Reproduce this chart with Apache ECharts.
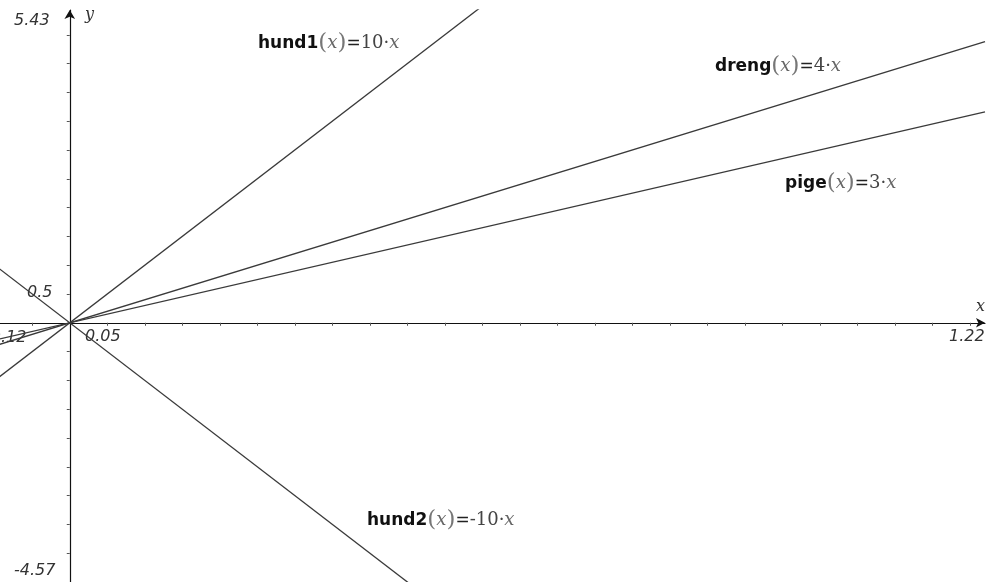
<!DOCTYPE html>
<html>
<head>
<meta charset="utf-8">
<script src="https://cdn.jsdelivr.net/npm/echarts@6/dist/echarts.min.js"></script>
<style>
  html, body { margin: 0; padding: 0; background: #fff; }
  #chart { width: 987px; height: 582px; }
</style>
</head>
<body>
<div id="chart"></div>
<script>
// window of the graph
const xMin = -0.093, xMax = 1.22;
const yMin = -4.57, yMax = 5.43;

// each function drawn as a straight segment through two points
const hund1 = [[-0.1, -1], [0.6, 6]];      // 10x
const dreng = [[-0.1, -0.4], [1.22, 4.88]]; // 4x
const pige = [[-0.1, -0.3], [1.22, 3.66]];  // 3x
const hund2 = [[-0.1, 1], [0.5, -5]];       // -10x

// tick marks (0.05 on x, 0.5 on y)
const xTicks = [];
for (let i = -1; i <= 24; i++) if (i !== 0) xTicks.push(+(i * 0.05).toFixed(2));
const yTicks = [];
for (let i = -9; i <= 10; i++) if (i !== 0) yTicks.push(+(i * 0.5).toFixed(1));

const lineColor = "#3a3a3a";
const axisColor = "#111";
const numFont = "italic 16px DejaVu Sans";

const chart = echarts.init(document.getElementById("chart"));

function fnSeries(name, data) {
  return {
    name: name,
    type: "line",
    data: data,
    symbol: "none",
    clip: true,
    lineStyle: { color: lineColor, width: 1.3 },
    z: 3
  };
}

function fnLabel(left, top, name, coef) {
  return {
    type: "text",
    left: left,
    top: top,
    style: {
      text: "{n|" + name + "}{p|(}{x|x}{p|)}{e|=}{c|" + coef + "·}{x|x}",
      rich: {
        n: { fontFamily: "DejaVu Sans", fontWeight: "bold", fontSize: 17, fill: "#111" },
        p: { fontFamily: "DejaVu Serif", fontSize: 23, fill: "#777" },
        x: { fontFamily: "DejaVu Serif", fontStyle: "italic", fontSize: 18, fill: "#666" },
        e: { fontFamily: "DejaVu Sans", fontSize: 17, fill: "#222" },
        c: { fontFamily: "DejaVu Serif", fontSize: 18, fill: "#444" }
      }
    }
  };
}

function numText(left, top, text) {
  return { type: "text", left: left, top: top, style: { text: text, fill: "#333", font: numFont } };
}

const option = {
  backgroundColor: "#fff",
  animation: false,
  grid: { left: 0, right: 2, top: 10, bottom: -4, containLabel: false, outerBoundsMode: "none" },
  xAxis: {
    type: "value",
    min: xMin,
    max: xMax,
    splitLine: { show: false },
    axisLine: { onZero: true, symbol: ["none", "arrow"], symbolSize: [7, 9], lineStyle: { color: axisColor, width: 1.2 } },
    axisTick: { show: true, length: 3, customValues: xTicks, lineStyle: { color: "#555" } },
    axisLabel: { show: false }
  },
  yAxis: {
    type: "value",
    min: yMin,
    max: yMax,
    splitLine: { show: false },
    axisLine: { onZero: true, symbol: ["none", "arrow"], symbolSize: [8, 9], lineStyle: { color: axisColor, width: 1.2 } },
    axisTick: { show: true, length: 3, customValues: yTicks, lineStyle: { color: "#555" } },
    axisLabel: { show: false }
  },
  series: [
    fnSeries("hund1", hund1),
    fnSeries("dreng", dreng),
    fnSeries("pige", pige),
    fnSeries("hund2", hund2)
  ],
  graphic: [
    // window and scale labels
    numText(14, 13, "5.43"),
    numText(14, 563, "-4.57"),
    numText(949, 329, "1.22"),
    numText(-15, 330, "-0.12"),
    numText(27, 285, "0.5"),
    numText(85, 329, "0.05"),
    { type: "text", left: 85, top: 7, style: { text: "y", fill: "#333", font: "italic 16px DejaVu Serif" } },
    { type: "text", left: 976, top: 299, style: { text: "x", fill: "#333", font: "italic 16px DejaVu Serif" } },
    // function labels
    fnLabel(258, 32, "hund1", "10"),
    fnLabel(715, 55, "dreng", "4"),
    fnLabel(785, 172, "pige", "3"),
    fnLabel(367, 509, "hund2", "-10")
  ]
};

chart.setOption(option);
</script>
</body>
</html>
